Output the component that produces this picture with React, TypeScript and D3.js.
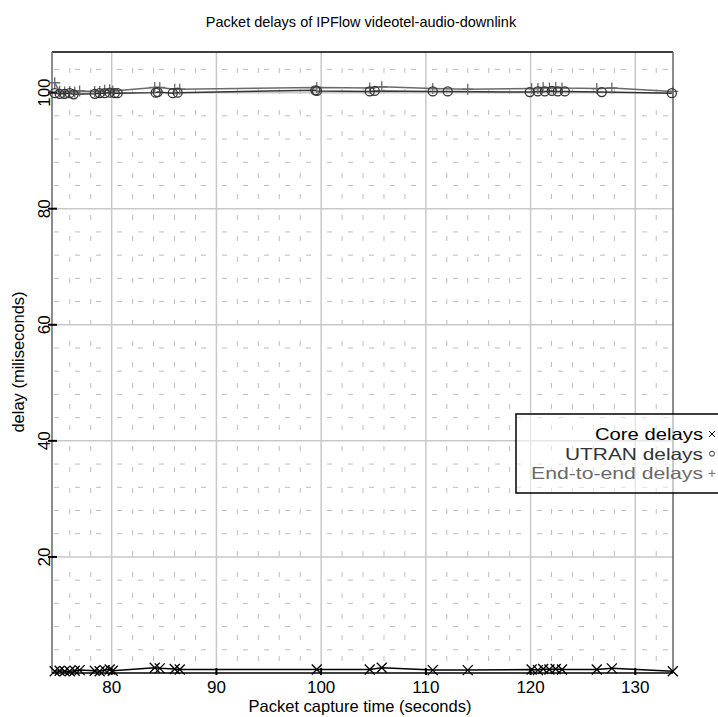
import * as d3 from 'd3'

const W = 718
const H = 717
const margin = { top: 52, right: 45, bottom: 44, left: 52 }

// packet capture times (s) and delays (ms)
const coreTimes = [74.56, 75.03, 75.51, 75.99, 76.47, 76.94, 78.38, 78.85, 79.33, 79.81, 80.1, 84.11, 84.59, 86.02, 86.5, 99.58, 104.64, 105.79, 110.66, 114.0, 120.1, 120.7, 121.2, 121.8, 122.4, 123.0, 126.32, 127.76, 133.58]
const coreDelays = [0.3, 0.4, 0.3, 0.3, 0.4, 0.5, 0.4, 0.3, 0.5, 0.6, 0.4, 0.9, 0.8, 0.7, 0.6, 0.6, 0.6, 0.9, 0.5, 0.5, 0.6, 0.5, 0.7, 0.6, 0.7, 0.6, 0.6, 0.8, 0.3]
const e2eDelays = [101.7, 100.2, 100.1, 100.2, 100.1, 100.3, 100.2, 100.2, 100.4, 100.5, 100.3, 100.9, 100.9, 100.6, 100.6, 100.9, 100.8, 101.0, 100.7, 100.6, 100.7, 100.7, 100.9, 100.8, 100.9, 100.8, 100.7, 100.8, 100.2]
const utranTimes = [74.56, 75.03, 75.51, 75.99, 76.37, 78.38, 78.85, 79.33, 79.81, 80.29, 80.57, 84.2, 84.39, 85.83, 86.3, 99.45, 99.6, 104.64, 105.12, 110.66, 112.09, 119.92, 120.69, 121.36, 122.03, 122.6, 123.27, 126.8, 133.49]
const utranDelays = [99.9, 99.8, 99.8, 99.9, 99.7, 99.8, 99.9, 99.9, 100.0, 99.9, 99.9, 100.0, 100.1, 99.9, 100.0, 100.4, 100.3, 100.2, 100.3, 100.2, 100.2, 100.1, 100.2, 100.2, 100.3, 100.2, 100.2, 100.1, 99.9]

const xTicks = [80, 90, 100, 110, 120, 130]
const yTicks = [20, 40, 60, 80, 100]
const xMinor = d3.range(76, 134, 2).filter((v) => v % 10 !== 0)
const yMinor = d3.range(4, 107, 4).filter((v) => v % 20 !== 0)

const CORE = '#000'
const UTRAN = '#333'
const E2E = '#6a6a6a'
const FONT = '"Liberation Sans", Arial, sans-serif'

const crossPath = 'M-5,-5L5,5M-5,5L5,-5'
const plusPath = 'M-5.5,0H5.5M0,-5.5V5.5'

export default function App() {
  const x = d3.scaleLinear().domain([74.3, 133.6]).range([margin.left, W - margin.right])
  const y = d3.scaleLinear().domain([0, 107]).range([H - margin.bottom, margin.top])
  const x0 = margin.left
  const x1 = W - margin.right
  const y0 = H - margin.bottom
  const y1 = margin.top

  const line = d3.line<[number, number]>().x((d) => x(d[0])).y((d) => y(d[1]))
  const core: [number, number][] = coreTimes.map((t, i) => [t, coreDelays[i]])
  const e2e: [number, number][] = coreTimes.map((t, i) => [t, e2eDelays[i]])
  const utran: [number, number][] = utranTimes.map((t, i) => [t, utranDelays[i]])

  const legendItems = [
    { label: 'Core delays', color: CORE, kind: 'x', len: 108 },
    { label: 'UTRAN delays', color: UTRAN, kind: 'o', len: 138 },
    { label: 'End-to-end delays', color: E2E, kind: '+', len: 172 },
  ]

  return (
    <svg width={W} height={H} style={{ position: 'absolute', left: 0, top: 0, background: '#fff' }} fontFamily={FONT}>
      <rect width={W} height={H} fill="#fff" />
      <text x={361} y={27} textAnchor="middle" fontSize={14.5}>
        Packet delays of IPFlow videotel-audio-downlink
      </text>

      {/* minor grid */}
      <g stroke="#bdbdbd" strokeWidth={1} strokeDasharray="5,16">
        {xMinor.map((v) => (
          <line key={'xm' + v} x1={x(v)} x2={x(v)} y1={y0 - 12} y2={y1} />
        ))}
        {yMinor.map((v) => (
          <line key={'ym' + v} x1={x0 + 2} x2={x1} y1={y(v)} y2={y(v)} />
        ))}
      </g>
      {/* major grid */}
      <g stroke="#c8c8c8" strokeWidth={1.5}>
        {xTicks.map((v) => (
          <line key={'xg' + v} x1={x(v)} x2={x(v)} y1={y0} y2={y1} />
        ))}
        {yTicks.map((v) => (
          <line key={'yg' + v} x1={x0} x2={x1} y1={y(v)} y2={y(v)} />
        ))}
      </g>

      {/* frame */}
      <line x1={x0} x2={x1} y1={y1} y2={y1} stroke="#000" strokeWidth={1.5} />
      <line x1={x1} x2={x1} y1={y1} y2={y0} stroke="#666" strokeWidth={1.5} />
      <line x1={x0} x2={x0} y1={y1} y2={y0} stroke="#666" strokeWidth={1.5} />
      <line x1={x0} x2={x1} y1={y0} y2={y0} stroke="#000" strokeWidth={1.5} />

      {/* ticks */}
      <g stroke="#000" strokeWidth={2}>
        {xTicks.map((v) => (
          <line key={'xt' + v} x1={x(v)} x2={x(v)} y1={y0 + 2} y2={y0 - 5} />
        ))}
        {yTicks.map((v) => (
          <line key={'yt' + v} x1={x0 - 4} x2={x0 + 5} y1={y(v)} y2={y(v)} />
        ))}
      </g>
      <g fontSize={17} textAnchor="middle">
        {xTicks.map((v) => (
          <text key={'xl' + v} x={x(v)} y={693}>
            {v}
          </text>
        ))}
        {yTicks.map((v) => (
          <text key={'yl' + v} transform={`translate(50,${y(v)}) rotate(-90)`}>
            {v}
          </text>
        ))}
      </g>

      {/* series */}
      <path d={line(e2e) ?? ''} fill="none" stroke={E2E} strokeWidth={1.5} />
      <path d={line(utran) ?? ''} fill="none" stroke={UTRAN} strokeWidth={1.5} />
      <path d={line(core) ?? ''} fill="none" stroke={CORE} strokeWidth={1.5} />
      <g fill="none" stroke={E2E} strokeWidth={1.3}>
        {e2e.map((d, i) => (
          <path key={'p' + i} d={plusPath} transform={`translate(${x(d[0])},${y(d[1])})`} />
        ))}
      </g>
      <g fill="none" stroke={UTRAN} strokeWidth={1.3}>
        {utran.map((d, i) => (
          <circle key={'c' + i} cx={x(d[0])} cy={y(d[1])} r={4.5} />
        ))}
      </g>
      <g fill="none" stroke={CORE} strokeWidth={1.3}>
        {core.map((d, i) => (
          <path key={'x' + i} d={crossPath} transform={`translate(${x(d[0])},${y(d[1])})`} />
        ))}
      </g>

      {/* legend */}
      <rect x={516} y={414} width={230} height={79} fill="#fff" fillOpacity={0.55} stroke="#000" strokeWidth={1.5} />
      {legendItems.map((it, i) => (
        <g key={it.label}>
          <text
            x={703 - it.len}
            y={440 + i * 19.7}
            fontSize={16.5}
            fill={it.color}
            textLength={it.len}
            lengthAdjust="spacingAndGlyphs"
          >
            {it.label}
          </text>
          <g transform={`translate(712,${434 + i * 19.7})`} fill="none" stroke={it.color} strokeWidth={1}>
            {it.kind === 'x' && <path d="M-3,-3L3,3M-3,3L3,-3" />}
            {it.kind === 'o' && <circle r={2.5} />}
            {it.kind === '+' && <path d="M-3.5,0H3.5M0,-3.5V3.5" />}
          </g>
        </g>
      ))}

      <text x={360} y={712} textAnchor="middle" fontSize={16.5}>
        Packet capture time (seconds)
      </text>
      <text transform="translate(24,362) rotate(-90)" textAnchor="middle" fontSize={16.5}>
        delay (miliseconds)
      </text>
    </svg>
  )
}
